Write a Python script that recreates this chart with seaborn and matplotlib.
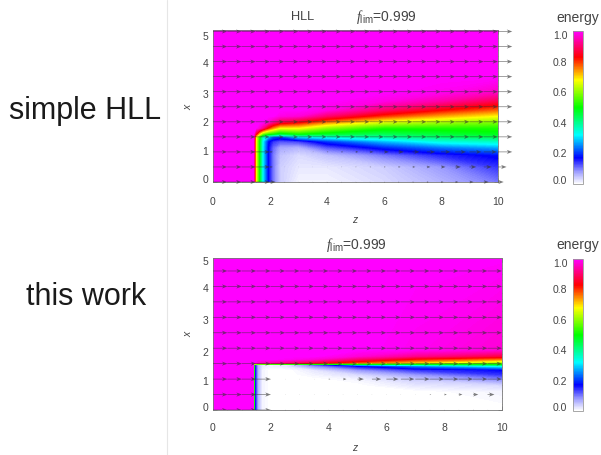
import numpy as np
import seaborn as sns
import matplotlib
matplotlib.use("Agg")
import matplotlib.pyplot as plt
from matplotlib.colors import LinearSegmentedColormap, Normalize
from matplotlib.cm import ScalarMappable
from matplotlib.lines import Line2D
from matplotlib.ticker import MultipleLocator
from matplotlib.transforms import ScaledTranslation

# ---- data ----
top_z = [0, 1.42, 1.5, 1.62, 1.74, 1.93, 2.1, 2.35, 3, 4, 6, 8, 10]
top_x = [0, 0.5, 0.9, 1.15, 1.35, 1.5, 1.6, 1.8, 2.0, 2.2, 2.4, 2.7, 3.0, 3.5, 5.2]
top_energy = [
    [1, 1, .68, .50, .32, .17, .10, .04, .01, .01, .03, .06, .10],
    [1, 1, .68, .50, .32, .17, .10, .04, .02, .02, .04, .08, .14],
    [1, 1, .68, .50, .32, .17, .10, .05, .03, .05, .10, .15, .18],
    [1, 1, .68, .50, .32, .17, .11, .07, .06, .12, .19, .24, .27],
    [1, 1, .68, .50, .32, .18, .14, .12, .13, .20, .28, .34, .36],
    [1, 1, .70, .52, .36, .28, .22, .20, .30, .34, .38, .42, .44],
    [1, 1, .85, .70, .58, .52, .50, .46, .50, .47, .44, .46, .48],
    [1, 1, 1, .97, .92, .82, .75, .68, .68, .60, .52, .52, .52],
    [1, 1, 1, 1, 1, .97, .93, .88, .84, .76, .66, .62, .59],
    [1, 1, 1, 1, 1, 1, 1, .98, .97, .90, .80, .73, .68],
    [1, 1, 1, 1, 1, 1, 1, 1, 1, .98, .90, .83, .77],
    [1, 1, 1, 1, 1, 1, 1, 1, 1, 1, .98, .94, .88],
    [1, 1, 1, 1, 1, 1, 1, 1, 1, 1, 1, .99, .96],
    [1, 1, 1, 1, 1, 1, 1, 1, 1, 1, 1, 1, 1],
    [1, 1, 1, 1, 1, 1, 1, 1, 1, 1, 1, 1, 1],
]
bot_z = [0, 1.39, 1.44, 1.55, 1.7, 2.0, 2.6, 3.5, 5, 7, 10]
bot_x = [0, 0.6, 0.8, 1.0, 1.15, 1.3, 1.42, 1.47, 1.5, 1.55, 1.65, 1.75, 1.95, 5.2]
bot_energy = [
    [1, 1, .17, .06, .01, 0, 0, 0, 0, 0, 0],
    [1, 1, .17, .06, .01, 0, 0, 0, 0, 0, .01],
    [1, 1, .17, .06, .01, 0, 0, 0, 0, .02, .03],
    [1, 1, .17, .06, .01, 0, 0, 0, .01, .04, .09],
    [1, 1, .17, .06, .01, 0, 0, .01, .03, .08, .14],
    [1, 1, .17, .06, .01, 0, 0, .02, .08, .14, .17],
    [1, 1, .17, .06, .02, .01, .02, .08, .16, .24, .32],
    [1, 1, .17, .05, .02, .01, .02, .12, .30, .38, .45],
    [1, 1, .90, .90, .90, .88, .85, .75, .62, .56, .52],
    [1, 1, 1, .97, .96, .95, .92, .88, .80, .72, .63],
    [1, 1, 1, 1, 1, 1, .99, .97, .90, .82, .76],
    [1, 1, 1, 1, 1, 1, 1, 1, .97, .92, .87],
    [1, 1, 1, 1, 1, 1, 1, 1, 1, .99, .97],
    [1, 1, 1, 1, 1, 1, 1, 1, 1, 1, 1],
]
arrow_z = [0, .5, 1, 1.5, 2, 2.5, 3, 3.5, 4, 4.5, 5, 5.5, 6, 6.5, 7, 7.5, 8, 8.5, 9, 9.5, 10]
arrow_x = [0, .5, 1, 1.5, 2, 2.5, 3, 3.5, 4, 4.5, 5]
full_row = [.5] * 21
top_flux = [
    [.5, .5, .5, .5, .2, .02, .01, .01, .01, .01, .02, .02, .03, .04, .05, .07, .09, .11, .14, .17, .2],
    [.5, .5, .5, .5, .1, .02, .01, .01, .02, .03, .04, .05, .06, .08, .1, .13, .16, .2, .24, .28, .3],
    [.5, .5, .5, .5, .1, .03, .02, .03, .05, .07, .1, .13, .17, .2, .25, .3, .34, .38, .42, .46, .5],
] + [full_row] * 8
bot_flux = [
    [.5, .5, .5, .5, .01, .01, .01, .01, .01, .01, .01, .01, .02, .01, .02, .02, .02, .02, .03, .02, .02],
    [.5, .5, .5, .5, 0, 0, 0, 0, 0, 0, 0, 0, .01, .01, .02, .05, .09, .13, .18, .24, .3],
    [.5, .5, .5, .5, 0, 0, .01, .02, .06, .12, .22, .32, .42, .47, .5, .5, .5, .5, .5, .5, .5],
] + [full_row] * 8
energy_ticks = [0.0, 0.2, 0.4, 0.6, 0.8, 1.0]
z_ticks = [0, 2, 4, 6, 8, 10]
x_ticks = [0, 1, 2, 3, 4, 5]
row_labels = ["simple HLL", "this work"]
cbar_title = "energy"
top_title = "HLL"
flim_title = r"$\mathit{f}_{\mathrm{lim}}$=0.999"

# ---- style ----
sns.set_theme(style="ticks", rc={"axes.linewidth": 0.6, "axes.edgecolor": "#777777"})
plt.rcParams["font.family"] = ["Liberation Sans", "DejaVu Sans"]
plt.rcParams["mathtext.fontset"] = "custom"
plt.rcParams["mathtext.it"] = "Liberation Serif:italic"
plt.rcParams["mathtext.rm"] = "Liberation Sans"

W, H = 601, 455
GREY = "#444444"
fig = plt.figure(figsize=(W / 100, H / 100), dpi=100)
cmap = LinearSegmentedColormap.from_list("energy", [
    (0.0, "#ffffff"), (0.08, "#9a9aff"), (0.17, "#0000ff"), (0.32, "#00ffff"),
    (0.5, "#00ff00"), (0.68, "#ffff00"), (0.83, "#ff0000"), (1.0, "#ff00ff")], N=256)


def box(l, t, r, b):
    return fig.add_axes([l / W, 1 - b / H, (r - l) / W, (b - t) / H])


def shift(label, dy):
    label.set_transform(label.get_transform() + ScaledTranslation(0, dy / 100, fig.dpi_scale_trans))


def panel(rect, z, x, e, flux, ymax, arrows_out, xpad, yshift):
    ax = box(*rect)
    ax.contourf(z, x, np.array(e), levels=np.linspace(0, 1, 257), cmap=cmap,
                vmin=0, vmax=1, extend="both", antialiased=False)
    ax.quiver(arrow_z, arrow_x, np.array(flux), np.zeros((len(arrow_x), len(arrow_z))),
              angles="xy", scale_units="xy", scale=1, color="#333333", alpha=0.65,
              width=0.0024, headwidth=6, headlength=8, headaxislength=6, minlength=0.6,
              clip_on=not arrows_out, zorder=3)
    ax.set_xlim(0, 10)
    ax.set_ylim(0, ymax)
    ax.set_xticks(z_ticks)
    ax.set_yticks([t for t in x_ticks if t <= ymax])
    ax.xaxis.set_minor_locator(MultipleLocator(0.5))
    ax.yaxis.set_minor_locator(MultipleLocator(0.2))
    ax.tick_params(which="major", direction="in", length=3, width=0.5, color="#666666",
                   top=True, right=True, labelsize=7.5, labelcolor=GREY)
    ax.tick_params(which="minor", direction="in", length=1.5, width=0.4, color="#666666",
                   top=True, right=True)
    ax.tick_params(axis="x", which="major", pad=xpad)
    ax.tick_params(axis="y", which="major", pad=3.5)
    for lab, dy in zip(ax.get_yticklabels(), yshift):
        shift(lab, dy)
    return ax


panel((213, 30, 498, 182), top_z, top_x, top_energy, top_flux, 5.05, True, 11, [3.3, 0.6, 0, -2.3, -1.7, -4.3])
ax2 = panel((213, 258, 502, 410), bot_z, bot_x, bot_energy, bot_flux, 4.92, False, 9.5, [3.3, -1.7, -3.3, -2.7, -1.7])
fig.text(205 / W, 1 - 262 / H, "5", fontsize=7.5, color=GREY, ha="center", va="center")


def colorbar(t, b, title_y):
    cax = box(573, t, 583, b)
    cb = fig.colorbar(ScalarMappable(Normalize(0, 1), cmap), cax=cax, ticks=energy_ticks)
    cb.ax.yaxis.set_ticks_position("left")
    cb.ax.set_yticklabels([f"{v:.1f}" for v in energy_ticks])
    cb.ax.tick_params(length=0, labelsize=7.5, labelcolor=GREY, pad=4)
    cb.outline.set_edgecolor("#999999")
    cb.outline.set_linewidth(0.6)
    labs = cb.ax.get_yticklabels()
    shift(labs[0], 4)
    shift(labs[-1], -4)
    fig.text(578 / W, 1 - title_y / H, cbar_title, fontsize=10, color=GREY, ha="center", va="center")


colorbar(31, 184, 18)
colorbar(259, 411, 245)

txt = dict(color=GREY, va="center")
fig.text(303 / W, 1 - 17 / H, top_title, fontsize=9.2, ha="center", **txt)
fig.text(386 / W, 1 - 17 / H, flim_title, fontsize=10, ha="center", **txt)
fig.text(356 / W, 1 - 245 / H, flim_title, fontsize=10, ha="center", **txt)
for y, yl in ((220, 107), (448, 334)):
    fig.text(355 / W, 1 - y / H, "z", fontsize=7.5, style="italic", ha="center", **txt)
    fig.text(188 / W, 1 - yl / H, "x", fontsize=7.5, style="italic", ha="center", rotation=90, **txt)

fig.text(85 / W, 1 - 111 / H, row_labels[0], fontsize=22, color="#1a1a1a", ha="center", va="center")
fig.text(86 / W, 1 - 297 / H, row_labels[1], fontsize=22, color="#1a1a1a", ha="center", va="center")
fig.add_artist(Line2D([167 / W, 167 / W], [0, 1], color="#e6e6e6", lw=0.8, transform=fig.transFigure))

fig.savefig("out.png", dpi=100)
